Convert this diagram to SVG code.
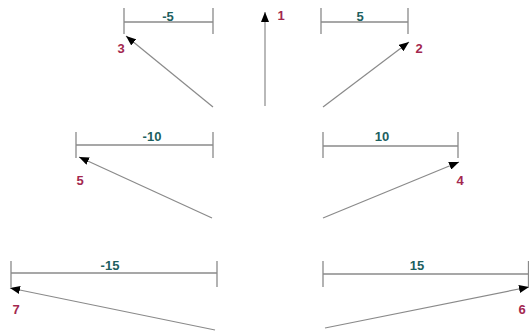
<svg xmlns="http://www.w3.org/2000/svg" width="529" height="332" viewBox="0 0 529 332">
<style>
.ln{stroke:#8a8a8a;stroke-width:1.2;fill:none}
.br{stroke:#8a8a8a;stroke-width:1.3;fill:none}
.num{font-family:"Liberation Sans",Arial,sans-serif;font-weight:bold;font-size:13px;fill:#a3284f;text-anchor:middle}
.val{font-family:"Liberation Sans",Arial,sans-serif;font-weight:bold;font-size:13px;fill:#1d5f5f;text-anchor:middle}
</style>
<defs>
<marker id="ah" viewBox="0 0 10 8" refX="10" refY="4" markerWidth="10" markerHeight="8" markerUnits="userSpaceOnUse" orient="auto">
<path d="M0,0 L10,4 L0,8 Z" fill="#000"/>
</marker>
</defs>
<rect width="529" height="332" fill="#fff"/>
<g id="connectors">
<line class="ln" x1="265" y1="106" x2="265" y2="12" marker-end="url(#ah)"/>
<line class="ln" x1="213" y1="107" x2="126" y2="36" marker-end="url(#ah)"/>
<line class="ln" x1="323" y1="107" x2="409" y2="42" marker-end="url(#ah)"/>
<line class="ln" x1="212" y1="218" x2="79" y2="157" marker-end="url(#ah)"/>
<line class="ln" x1="323" y1="218" x2="459" y2="162" marker-end="url(#ah)"/>
<line class="ln" x1="215" y1="330" x2="10" y2="288" marker-end="url(#ah)"/>
<line class="ln" x1="325" y1="328" x2="529" y2="287" marker-end="url(#ah)"/>
</g>
<g id="bracket-m5">
<path class="br" d="M124,8 V34 M124,22 H213 M213,8 V34"/>
<text class="val" x="168" y="21">-5</text>
</g>
<g id="bracket-5">
<path class="br" d="M321,8 V34 M321,22 H408 M408,8 V34"/>
<text class="val" x="360" y="21">5</text>
</g>
<g id="bracket-m10">
<path class="br" d="M76,132 V158 M76,145 H213 M213,132 V158"/>
<text class="val" x="152" y="141">-10</text>
</g>
<g id="bracket-10">
<path class="br" d="M323,132 V158 M323,146 H458 M458,132 V158"/>
<text class="val" x="382" y="141">10</text>
</g>
<g id="bracket-m15">
<path class="br" d="M11,261 V287 M11,273 H217 M217,261 V287"/>
<text class="val" x="110" y="270">-15</text>
</g>
<g id="bracket-15">
<path class="br" d="M323,261 V287 M323,274 H528.5 M528.5,261 V287"/>
<text class="val" x="417" y="270">15</text>
</g>
<g id="label-1"><text class="num" x="281" y="20">1</text></g>
<g id="label-2"><text class="num" x="419" y="53">2</text></g>
<g id="label-3"><text class="num" x="121" y="53">3</text></g>
<g id="label-4"><text class="num" x="460" y="185">4</text></g>
<g id="label-5"><text class="num" x="80" y="185">5</text></g>
<g id="label-6"><text class="num" x="522" y="314">6</text></g>
<g id="label-7"><text class="num" x="16" y="314">7</text></g>
</svg>
